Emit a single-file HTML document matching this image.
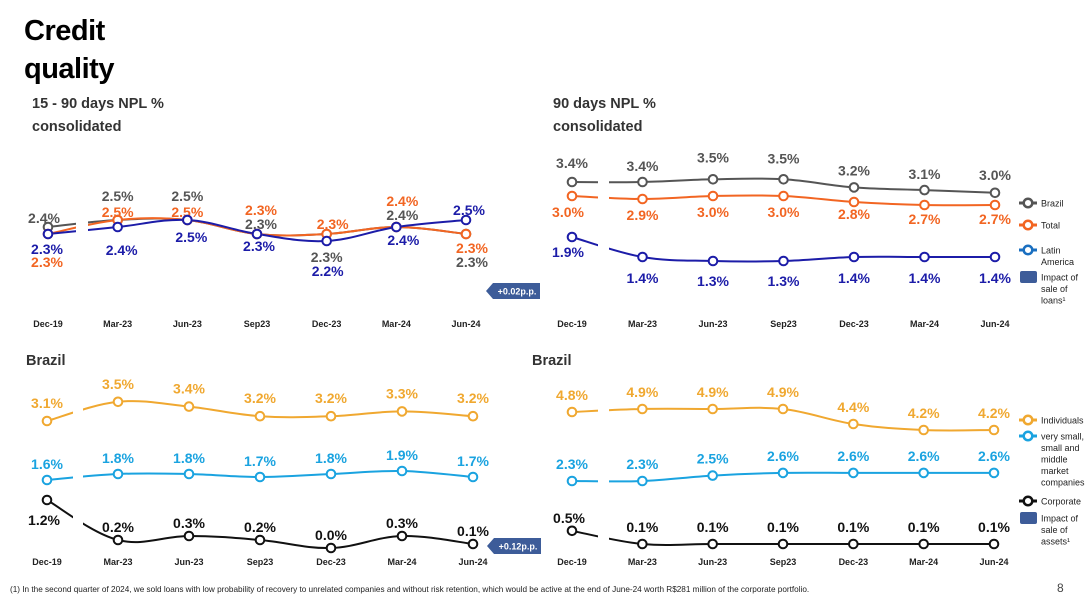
<!DOCTYPE html>
<html><head><meta charset="utf-8">
<style>
body{margin:0;background:#fff;font-family:"Liberation Sans",sans-serif;}
#wrap{position:relative;width:1091px;height:602px;overflow:hidden;}
.t{position:absolute;font-weight:bold;}
</style></head>
<body>
<div id="wrap">
<svg id="svg" width="1091" height="602" style="position:absolute;left:0;top:0"></svg>
<div class="t" style="left:24px;top:12px;font-size:29px;line-height:38px;color:#000;letter-spacing:-0.5px">Credit<br>quality</div>
<div class="t" style="left:32px;top:93px;font-size:14.5px;line-height:23px;color:#333">15 - 90 days NPL %<br>consolidated</div>
<div class="t" style="left:553px;top:93px;font-size:14.5px;line-height:23px;color:#333">90 days NPL %<br>consolidated</div>
<div class="t" style="left:26px;top:353px;font-size:14.5px;color:#333">Brazil</div>
<div class="t" style="left:532px;top:353px;font-size:14.5px;color:#333">Brazil</div>
<div style="position:absolute;left:10px;top:585px;font-size:8.2px;color:#222">(1) In the second quarter of 2024, we sold loans with low probability of recovery to unrelated companies and without risk retention, which would be active at the end of June-24 worth R$281 million of the corporate portfolio.</div>
<div style="position:absolute;left:1057px;top:581px;font-size:12px;color:#444">8</div>
</div>
<script>
const categories=["Dec-19","Mar-23","Jun-23","Sep23","Dec-23","Mar-24","Jun-24"];
// Top-left 15-90 days NPL
const tlBrazil=[2.4,2.5,2.5,2.3,2.3,2.4,2.3];
const tlTotal=[2.3,2.5,2.5,2.3,2.3,2.4,2.3];
const tlLatam=[2.3,2.4,2.5,2.3,2.2,2.4,2.5];
// Top-right 90 days NPL
const trBrazil=[3.4,3.4,3.5,3.5,3.2,3.1,3.0];
const trTotal=[3.0,2.9,3.0,3.0,2.8,2.7,2.7];
const trLatam=[1.9,1.4,1.3,1.3,1.4,1.4,1.4];
// Bottom-left Brazil 15-90
const blInd=[3.1,3.5,3.4,3.2,3.2,3.3,3.2];
const blSme=[1.6,1.8,1.8,1.7,1.8,1.9,1.7];
const blCorp=[1.2,0.2,0.3,0.2,0.0,0.3,0.1];
// Bottom-right Brazil 90
const brInd=[4.8,4.9,4.9,4.9,4.4,4.2,4.2];
const brSme=[2.3,2.3,2.5,2.6,2.6,2.6,2.6];
const brCorp=[0.5,0.1,0.1,0.1,0.1,0.1,0.1];

const NS="http://www.w3.org/2000/svg";
const svg=document.getElementById('svg');
const lineLayer=document.createElementNS(NS,'g');svg.appendChild(lineLayer);
const gapLayer=document.createElementNS(NS,'g');svg.appendChild(gapLayer);
const markLayer=document.createElementNS(NS,'g');svg.appendChild(markLayer);
function mk(tag,attrs,parent){const e=document.createElementNS(NS,tag);for(const k in attrs)e.setAttribute(k,attrs[k]);(parent||svg).appendChild(e);return e;}
function xScale(x0,x1){return i=>x0+(x1-x0)*i/6;}
function yScale(y0,v0,k){return v=>y0-(v-v0)*k;}
function smooth(pts){let d=`M${pts[0][0]},${pts[0][1]}`;for(let i=0;i<pts.length-1;i++){const p0=pts[Math.max(0,i-1)],p1=pts[i],p2=pts[i+1],p3=pts[Math.min(pts.length-1,i+2)];const t=0.18;d+=` C${p1[0]+(p2[0]-p0[0])*t},${p1[1]+(p2[1]-p0[1])*t} ${p2[0]-(p3[0]-p1[0])*t},${p2[1]-(p3[1]-p1[1])*t} ${p2[0]},${p2[1]}`;}return d;}
function series(name,vals,xs,ys,color,dy,gap,w){
  const pts=vals.map((v,i)=>[xs(i),ys(v)]);
  const p=mk('path',{d:smooth(pts),fill:'none',stroke:color,'stroke-width':w||2},lineLayer);
  
  
  if(gap){const f=((gap[0]+gap[1])/2-pts[0][0])/(pts[1][0]-pts[0][0]);const gy=pts[0][1]+(pts[1][1]-pts[0][1])*f;
  const r=mk('rect',{x:gap[0],y:gy-9,width:gap[1]-gap[0],height:18,fill:'#fff'},gapLayer);
  
  }
  const g=mk('g',{},markLayer);
  
  
  pts.forEach((q,i)=>{const c=mk('circle',{cx:q[0],cy:q[1],r:4.3,fill:'#fff',stroke:color,'stroke-width':2},g);
    
    
    const d=Array.isArray(dy)?dy[i]:[dy];
    const t=mk('text',{x:q[0]+(d[1]||0),y:q[1]+d[0]+5,'text-anchor':'middle','font-size':14,'font-weight':'bold',fill:color,'font-family':'Liberation Sans,sans-serif'},g);
    t.textContent=vals[i].toFixed(1)+'%';
    
    });
}
function xLabels(xs,y,pre){categories.forEach((c,i)=>{const t=mk('text',{x:xs(i),y:y,'text-anchor':'middle','font-size':9,'font-weight':'bold',fill:'#222'});t.textContent=c;
  
  });}
function badge(x,y,txt,name){const g=mk('g',{});
  
  
  mk('path',{d:`M${x},${y+8} L${x+7},${y} L${x+54},${y} L${x+54},${y+16} L${x+7},${y+16} Z`,fill:'#3d5c99'},g);
  const t=mk('text',{x:x+31,y:y+11.5,'text-anchor':'middle','font-size':9,'font-weight':'bold',fill:'#fff'},g);t.textContent=txt;}
function legend(x,y,color,lines,name,box){const g=mk('g',{});
  
  
  if(box){mk('rect',{x:x-8,y:y-6,width:17,height:12,rx:2,fill:'#3d5c99'},g);}
  else{mk('line',{x1:x-9,y1:y,x2:x+9,y2:y,stroke:color,'stroke-width':3},g);mk('circle',{cx:x,cy:y,r:4.3,fill:'#fff',stroke:color,'stroke-width':2.5},g);}
  lines.forEach((l,i)=>{const t=mk('text',{x:x+13,y:y+3.5+i*11.5,'font-size':9,fill:'#222'},g);t.textContent=l;});}

const GRAY='#555',ORG='#f26522',BLU='#1c1ca8',IND='#f0a830',SME='#1aa3e0',CRP='#111';
// top-left
let xs=xScale(48,466);
series('tl-brazil',tlBrazil,xs,yScale(234,2.3,70),GRAY,[[-9,-4],[-24],[-24],[-10,4],[23],[-12,6],[28,6]],[76,88]);
series('tl-total',tlTotal,xs,yScale(234,2.3,70),ORG,[[28,-1],[-8],[-8],[-24,4],[-10,6],[-26,6],[14,6]],[76,88]);
series('tl-latam',tlLatam,xs,yScale(234,2.3,70),BLU,[[15,-1],[23,4],[17,4],[12,2],[30,1],[13,7],[-10,3]],[76,88]);
xLabels(xs,327,'tl');
badge(486,283,'+0.02p.p.','badge-tl-impact');
// top-right
xs=xScale(572,995);
series('tr-brazil',trBrazil,xs,yScale(182,3.4,27),GRAY,[[-19,0],[-16],[-22],[-21],[-17],[-16],[-18]],[598,609]);
series('tr-total',trTotal,xs,yScale(196,3.0,30),ORG,[[16,-4],[16],[16],[16],[12],[14],[14]],[598,609]);
series('tr-latam',trLatam,xs,yScale(257,1.4,40),BLU,[[15,-4],[21],[20],[20],[21],[21],[21]],[598,609]);
xLabels(xs,327,'tr');
legend(1028,203,GRAY,['Brazil'],'legend-brazil');
legend(1028,225,ORG,['Total'],'legend-total');
legend(1028,250,'#1a6fc0',['Latin','America'],'legend-latin-america');
legend(1028,277,null,['Impact of','sale of','loans¹'],'legend-impact-sale-loans',true);
// bottom-left
xs=xScale(47,473);
series('bl-individuals',blInd,xs,yScale(421,3.1,48),IND,-18,[73,83]);
series('bl-sme',blSme,xs,yScale(480,1.6,30),SME,-16,[73,83]);
series('bl-corporate',blCorp,xs,yScale(540,0.2,40),CRP,[[20,-3],[-13],[-13],[-13],[-13],[-13],[-13]],[73,83]);
xLabels(xs,565,'bl');
badge(487,538,'+0.12p.p.','badge-bl-impact');
// bottom-right
xs=xScale(572,994);
series('br-individuals',brInd,xs,yScale(412,4.8,30),IND,-17,[598,609]);
series('br-sme',brSme,xs,yScale(481,2.3,27),SME,-17,[598,609]);
series('br-corporate',brCorp,xs,yScale(544,0.1,33),CRP,[[-13,-3],[-17],[-17],[-17],[-17],[-17],[-17]],[598,609]);
xLabels(xs,565,'br');
legend(1028,420,IND,['Individuals'],'legend-individuals');
legend(1028,436,SME,['very small,','small and','middle','market','companies'],'legend-sme');
legend(1028,501,CRP,['Corporate'],'legend-corporate');
legend(1028,518,null,['Impact of','sale of','assets¹'],'legend-impact-sale-assets',true);
</script>
</body></html>
